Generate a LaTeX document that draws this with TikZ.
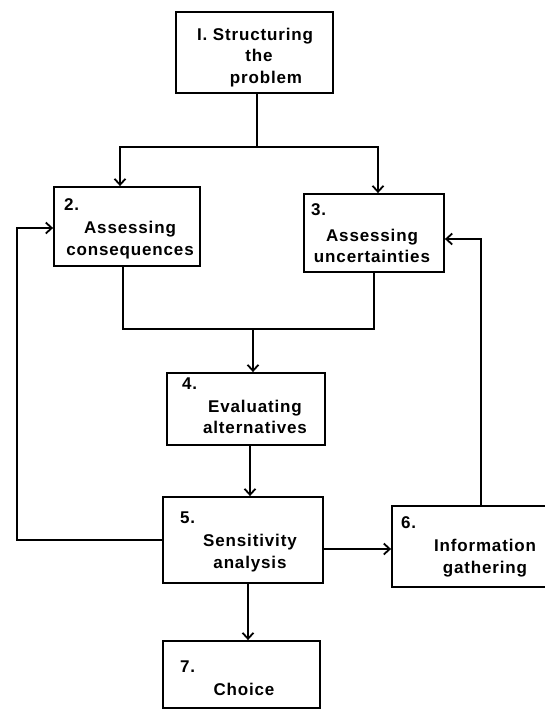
\documentclass[tikz,border=0pt]{standalone}
\usepackage{fontspec}
\setmainfont{Liberation Sans}[LetterSpace=5]
\usetikzlibrary{arrows.meta}
\begin{document}
\begin{tikzpicture}[x=1pt,y=-1pt,
  every node/.style={font=\fontsize{17}{21.5}\selectfont\bfseries},
  box/.style={draw,line width=1.8pt,rectangle,inner sep=0pt},
  txt/.style={align=center,inner sep=0pt},
  num/.style={anchor=west,inner sep=0pt},
  conn/.style={line width=1.8pt},
  arr/.style={conn,-{Straight Barb[length=6pt,width=11pt,line width=1.8pt]}}]
\clip (0,0) rectangle (545,710);
\fill[white] (0,0) rectangle (545,710);

% boxes
\node[box,minimum width=157pt,minimum height=81pt] (b1) at (254.5,52.5) {};
\node[box,minimum width=146pt,minimum height=79pt] (b2) at (127,226.5) {};
\node[box,minimum width=140pt,minimum height=78pt] (b3) at (374,233) {};
\node[box,minimum width=158pt,minimum height=72pt] (b4) at (246,409) {};
\node[box,minimum width=160pt,minimum height=86pt] (b5) at (243,540) {};
\node[box,minimum width=168pt,minimum height=81pt] (b6) at (476,546.5) {};
\node[box,minimum width=157pt,minimum height=67pt] (b7) at (241.5,674.5) {};

% texts
\node[txt] (t1) at (259,57.5) {\hspace*{-8pt}I. Structuring\\the\\\hspace*{14pt}problem};
\node[num] (n2) at (64,205) {2.};
\node[txt] (t2) at (130,240) {Assessing\\consequences};
\node[num] (n3) at (311,210) {3.};
\node[txt] (t3) at (372,246) {Assessing\\uncertainties};
\node[num] (n4) at (182,384) {4.};
\node[txt] (t4) at (255,417) {Evaluating\\alternatives};
\node[num] (n5) at (180,518) {5.};
\node[txt] (t5) at (250,553) {Sensitivity\\analysis};
\node[num] (n6) at (401,523) {6.};
\node[txt] (t6) at (485,558) {Information\\gathering};
\node[num] (n7) at (180,667) {7.};
\node[txt] (t7) at (244,689) {Choice};

% connectors
\coordinate (j1) at (257,147);
\draw[conn] (b1.south -| j1) -- (j1);
\draw[arr] (j1) -| ([xshift=-7pt]b2.north);
\draw[arr] (j1) -| ([xshift=4pt]b3.north);

\coordinate (j2) at (253,329);
\draw[conn] ([xshift=-4pt]b2.south) |- (j2) -| (b3.south);
\draw[arr] (j2) -- (j2 |- b4.north);

\draw[arr] ([xshift=4pt]b4.south) -- ([xshift=4pt]b4.south |- b5.north);
\draw[arr] ([xshift=5pt]b5.south) -- ([xshift=5pt]b5.south |- b7.north);
\draw[arr] ([yshift=-9pt]b5.east) -- ([yshift=-9pt]b5.east -| b6.west);

\coordinate (l1) at (17,0);
\coordinate (b2w) at ([yshift=-1.5pt]b2.west);
\draw[arr] (b5.west) -- (b5.west -| l1) -- (l1 |- b2w) -- (b2w);

\coordinate (r1) at (481,0);
\coordinate (b3e) at ([yshift=-6pt]b3.east);
\draw[arr] (r1 |- b6.north) -- (r1 |- b3e) -- (b3e);
\end{tikzpicture}
\end{document}
